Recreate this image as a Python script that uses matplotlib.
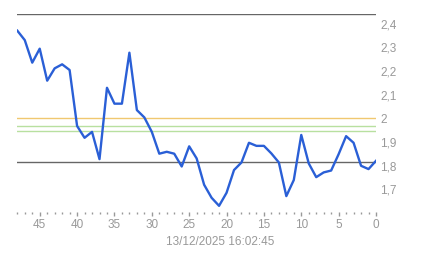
"""Intraday line chart with reference levels."""

import matplotlib

matplotlib.use("Agg")
import matplotlib.pyplot as plt
from matplotlib.ticker import FuncFormatter, MultipleLocator

plt.rcParams["font.family"] = ["Liberation Sans", "DejaVu Sans"]

# Minutes ago (48 .. 0) and price values.
minutes_ago = list(range(48, -1, -1))
prices = [
    2.37, 2.33, 2.235, 2.294, 2.159, 2.211, 2.228, 2.204, 1.968, 1.918,
    1.943, 1.828, 2.129, 2.062, 2.062, 2.277, 2.035, 2.004, 1.943, 1.851,
    1.859, 1.851, 1.797, 1.882, 1.831, 1.72, 1.665, 1.631, 1.686, 1.782,
    1.814, 1.897, 1.884, 1.884, 1.852, 1.814, 1.672, 1.74, 1.93, 1.81,
    1.752, 1.772, 1.78, 1.849, 1.925, 1.897, 1.80, 1.786, 1.821,
]

# Horizontal reference levels and their colours.
level_values = [2.439, 2.0, 1.966, 1.946, 1.814]
level_colors = ["#666666", "#f0c870", "#b8e0a0", "#b8e0a0", "#666666"]

y_ticks = [1.7, 1.8, 1.9, 2.0, 2.1, 2.2, 2.3, 2.4]
y_limits = (1.605, 2.439)
timestamp = "13/12/2025 16:02:45"

fig = plt.figure(figsize=(4.43, 2.58), dpi=100)
ax = fig.add_axes([17.3 / 443, 46 / 258, (376 - 17.3) / 443, (212 - 14.3) / 258])

for value, color in zip(level_values, level_colors):
    ax.axhline(value, color=color, linewidth=1.0, zorder=1)

ax.plot(minutes_ago, prices, color="#2a5fd6", linewidth=1.7, zorder=3,
        solid_joinstyle="round")

ax.set_xlim(48, 0)
ax.set_ylim(*y_limits)

for spine in ax.spines.values():
    spine.set_visible(False)

ax.xaxis.set_major_locator(MultipleLocator(5))
ax.xaxis.set_minor_locator(MultipleLocator(1))
ax.tick_params(axis="x", which="major", length=3, width=1, color="#999999",
               labelcolor="#999999", labelsize=8.5, pad=2)
ax.tick_params(axis="x", which="minor", length=1.5, width=1, color="#999999")

ax.yaxis.tick_right()
ax.set_yticks(y_ticks)
ax.yaxis.set_major_formatter(
    FuncFormatter(lambda v, _: f"{v:g}".replace(".", ","))
)
ax.tick_params(axis="y", length=0, labelcolor="#999999", labelsize=8.5, pad=3)

fig.text(220 / 443, 1 - 242 / 258, timestamp, ha="center", va="center",
         fontsize=8.5, color="#999999")

fig.savefig("out.png", dpi=100)
